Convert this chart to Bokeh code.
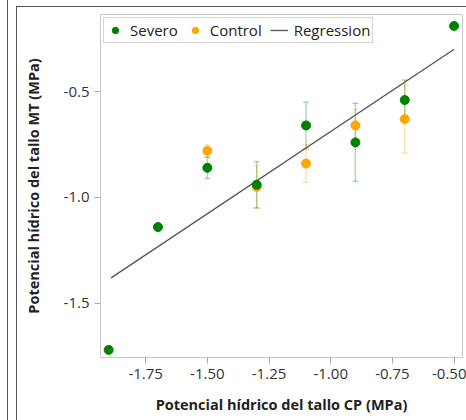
from bokeh.plotting import figure
from bokeh.models import (ColumnDataSource, Range1d, Whisker, TeeHead, Legend,
                          LegendItem, FixedTicker, Spacer)
from bokeh.layouts import row
from bokeh.embed import file_html
from bokeh.resources import INLINE

# ---- data ----
x_sev = [-1.90, -1.70, -1.50, -1.30, -1.10, -0.90, -0.70, -0.50]
y_sev = [-1.72, -1.14, -0.86, -0.94, -0.66, -0.74, -0.54, -0.19]
err_sev = [0.0, 0.0, 0.05, 0.11, 0.11, 0.185, 0.095, 0.0]

x_ctl = [-1.50, -1.30, -1.10, -0.90, -0.70]
y_ctl = [-0.78, -0.95, -0.84, -0.66, -0.63]
err_ctl = [0.03, 0.10, 0.09, 0.075, 0.16]

reg_x = [-1.89, -0.50]
reg_y = [-1.38, -0.30]

x_ticks = [-1.75, -1.50, -1.25, -1.00, -0.75, -0.50]
y_ticks = [-1.5, -1.0, -0.5]

GREEN = "#008000"
ORANGE = "#FFA500"
FONT = "Open Sans"

p = figure(width=450, height=414, output_backend="svg", toolbar_location=None,
           x_range=Range1d(-1.933, -0.466), y_range=Range1d(-1.756, -0.136),
           min_border_left=83, min_border_right=5, min_border_top=7,
           min_border_bottom=64, margin=(6, 0, 0, 8),
           styles={"border-left": "1.5px solid #555", "border-top": "1.5px solid #555"})

p.xgrid.visible = False
p.ygrid.visible = False
p.outline_line_color = "#c8c8c8"
p.outline_line_width = 1

for ax in (p.xaxis[0], p.yaxis[0]):
    ax.axis_line_color = "#c8c8c8"
    ax.major_tick_line_color = "#aaaaaa"
    ax.major_tick_out = 6
    ax.major_tick_in = 0
    ax.minor_tick_line_color = None
    ax.major_label_text_font = FONT
    ax.major_label_text_font_size = "15px"
    ax.major_label_text_color = "#333333"
    ax.axis_label_text_font = FONT
    ax.axis_label_text_font_size = "14.5px"
    ax.axis_label_text_font_style = "bold"
    ax.axis_label_text_color = "#222222"

p.xaxis.ticker = FixedTicker(ticks=x_ticks)
p.yaxis.ticker = FixedTicker(ticks=y_ticks)
p.xaxis.major_label_overrides = {t: f"{t:.2f}" for t in x_ticks}
p.yaxis.major_label_overrides = {t: f"{t:.1f}" for t in y_ticks}
p.xaxis.axis_label = "Potencial hídrico del tallo CP (MPa)"
p.yaxis.axis_label = "Potencial hídrico del tallo MT (MPa)"
p.xaxis.axis_label_standoff = 13
p.yaxis.axis_label_standoff = 18

# error bars
sev_e = [(x, y, e) for x, y, e in zip(x_sev, y_sev, err_sev) if e > 0]
ctl_e = [(x, y, e) for x, y, e in zip(x_ctl, y_ctl, err_ctl) if e > 0]
src_se = ColumnDataSource(dict(x=[a[0] for a in sev_e],
                               lo=[a[1] - a[2] for a in sev_e],
                               hi=[a[1] + a[2] for a in sev_e]))
src_ce = ColumnDataSource(dict(x=[a[0] for a in ctl_e],
                               lo=[a[1] - a[2] for a in ctl_e],
                               hi=[a[1] + a[2] for a in ctl_e]))
for src, col in ((src_ce, ORANGE), (src_se, GREEN)):
    w = Whisker(source=src, base="x", lower="lo", upper="hi",
                line_color=col, line_alpha=0.3, line_width=1.5,
                upper_head=TeeHead(size=6, line_color=col, line_alpha=0.3, line_width=1.5),
                lower_head=TeeHead(size=6, line_color=col, line_alpha=0.3, line_width=1.5))
    p.add_layout(w)

reg = p.line(reg_x, reg_y, line_color="#555555", line_width=1.3)
ctl = p.scatter(x_ctl, y_ctl, size=9, fill_color=ORANGE, line_color=ORANGE)
sev = p.scatter(x_sev, y_sev, size=9, fill_color=GREEN, line_color=GREEN)

legend = Legend(items=[LegendItem(label="Severo", renderers=[sev]),
                       LegendItem(label="Control", renderers=[ctl]),
                       LegendItem(label="Regression", renderers=[reg])],
                location="top_left", orientation="horizontal",
                label_text_font=FONT, label_text_font_size="15px",
                label_text_color="#222222",
                border_line_color="#aaaaaa", border_line_width=1,
                background_fill_color="white", background_fill_alpha=1,
                margin=3, padding=2, spacing=8, glyph_width=18, glyph_height=16,
                label_standoff=6, label_height=16)
p.add_layout(legend)

left = Spacer(width=8, height=420, styles={"border-right": "1.5px solid #555"})
layout = row(left, p)

open("out.html", "w").write(file_html(layout, INLINE))
